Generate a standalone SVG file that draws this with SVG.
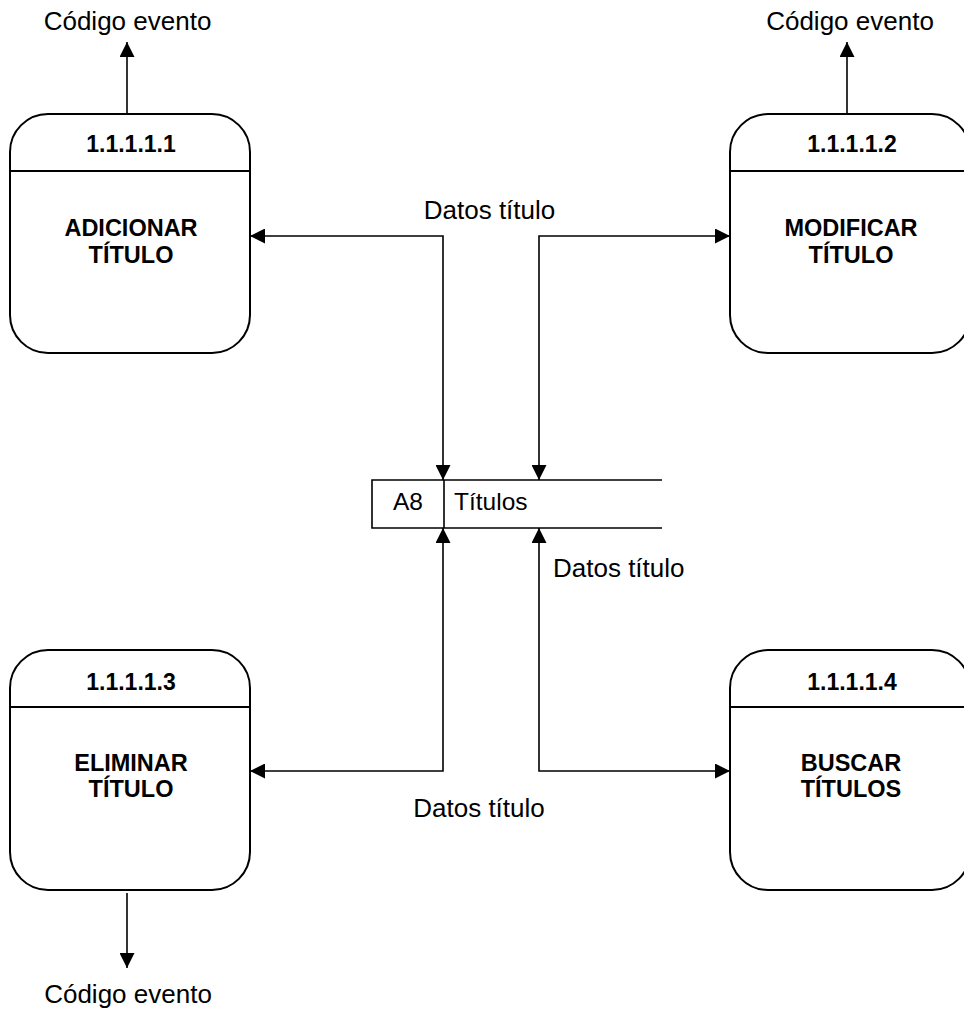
<svg xmlns="http://www.w3.org/2000/svg" width="964" height="1013" viewBox="0 0 964 1013">
<style>
.box{fill:#fff;stroke:#000;stroke-width:2}
.div{stroke:#000;stroke-width:2}
.num{font-family:"Liberation Sans",Arial,sans-serif;font-weight:bold;font-size:23px;text-anchor:middle;fill:#000}
.nm{font-family:"Liberation Sans",Arial,sans-serif;font-weight:bold;font-size:23.5px;text-anchor:middle;fill:#000}
.lbl{font-family:"Liberation Sans",Arial,sans-serif;font-size:26px;fill:#000}
.st{font-family:"Liberation Sans",Arial,sans-serif;font-size:24.5px;fill:#000}
.c{fill:none;stroke:#000;stroke-width:1.6}
</style>
<defs>
<marker id="ah" viewBox="0 0 10 10" refX="10" refY="5" markerWidth="16" markerHeight="15" markerUnits="userSpaceOnUse" orient="auto-start-reverse">
<path d="M0,0 L10,5 L0,10 z" fill="#000"/>
</marker>
</defs>
<rect width="964" height="1013" fill="#fff"/>
<g id="connectors">
<path class="c" d="M250,236 H443 V480" marker-start="url(#ah)" marker-end="url(#ah)"/>
<path class="c" d="M539,480 V236 H730" marker-start="url(#ah)" marker-end="url(#ah)"/>
<path class="c" d="M443,528 V771 H250" marker-start="url(#ah)" marker-end="url(#ah)"/>
<path class="c" d="M539,528 V771 H730" marker-start="url(#ah)" marker-end="url(#ah)"/>
<path class="c" d="M127,114 V42" marker-end="url(#ah)"/>
<path class="c" d="M847,114 V42" marker-end="url(#ah)"/>
<path class="c" d="M127,893 V968" marker-end="url(#ah)"/>
<text class="lbl" x="127.5" y="30" text-anchor="middle">Código evento</text>
<text class="lbl" x="850" y="30" text-anchor="middle">Código evento</text>
<text class="lbl" x="128" y="1003" text-anchor="middle">Código evento</text>
<text class="lbl" x="489.5" y="219" text-anchor="middle">Datos título</text>
<text class="lbl" x="553" y="577">Datos título</text>
<text class="lbl" x="479" y="817" text-anchor="middle">Datos título</text>
</g>
<g id="p1">
<rect class="box" x="10" y="114" width="240" height="239" rx="38" ry="38"/>
<line class="div" x1="10" y1="171" x2="250" y2="171"/>
<text class="num" x="131" y="152">1.1.1.1.1</text>
<text class="nm" x="131" y="236">ADICIONAR</text>
<text class="nm" x="131" y="263">TÍTULO</text>
</g>
<g id="p2">
<rect class="box" x="730" y="114" width="240" height="239" rx="38" ry="38"/>
<line class="div" x1="730" y1="171" x2="970" y2="171"/>
<text class="num" x="852" y="152">1.1.1.1.2</text>
<text class="nm" x="851" y="236">MODIFICAR</text>
<text class="nm" x="851" y="263">TÍTULO</text>
</g>
<g id="p3">
<rect class="box" x="10" y="650" width="240" height="240" rx="38" ry="38"/>
<line class="div" x1="10" y1="707" x2="250" y2="707"/>
<text class="num" x="131" y="690">1.1.1.1.3</text>
<text class="nm" x="131" y="771">ELIMINAR</text>
<text class="nm" x="131" y="797">TÍTULO</text>
</g>
<g id="p4">
<rect class="box" x="730" y="650" width="240" height="240" rx="38" ry="38"/>
<line class="div" x1="730" y1="707" x2="970" y2="707"/>
<text class="num" x="852" y="690">1.1.1.1.4</text>
<text class="nm" x="851" y="771">BUSCAR</text>
<text class="nm" x="851" y="797">TÍTULOS</text>
</g>
<g id="store">
<path class="c" d="M662,480 H372 V528 H662 M444,480 V528"/>
<text class="st" x="408" y="510" text-anchor="middle">A8</text>
<text class="st" x="454" y="510">Títulos</text>
</g>
</svg>
